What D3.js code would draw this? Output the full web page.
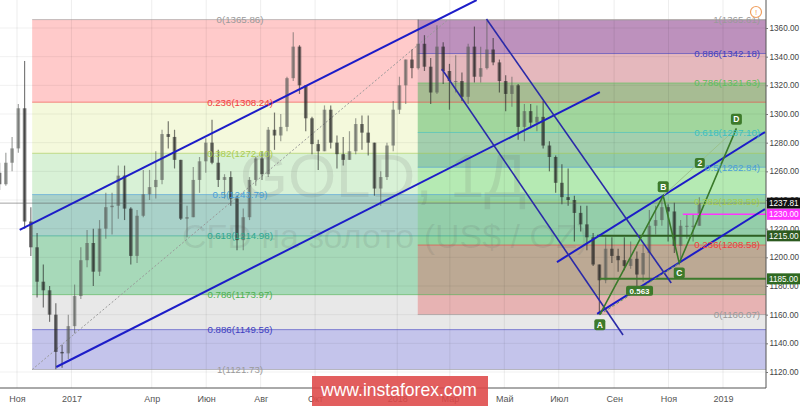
<!DOCTYPE html>
<html><head><meta charset="utf-8">
<script src="https://cdn.jsdelivr.net/npm/d3@7/dist/d3.min.js"></script>
<style>
html,body{margin:0;padding:0;background:#fff;}
svg{display:block;font-family:"Liberation Sans",Arial,sans-serif;}
</style></head>
<body><svg id="c" width="800" height="406"></svg>
<script>
// ---------------- DATA ----------------
const firstWeek = "2016-10-10"; // weekly candles, Monday starts
const opens = [1259,1251,1266,1276,1304,1225,1207,1183,1177,1160,1134,1133,
 1152,1173,1198,1210,1190,1220,1235,1236,1257,1234,1201,1229,1244,1249,1254,1286,1284,1268,1227,1228,1254,1267,1280,1266,1254,1256,1241,1212,1228,1254,1269,1258,1289,1285,1291,1325,1347,1320,1297,1279,1274,1303,1280,1272,1268,1274,1293,1287,1280,1248,1256,1278,
 1303,1320,1338,1332,1349,1333,1315,1347,1330,1323,1323,1312,1347,1326,1332,1345,1336,1323,1314,1320,1291,1302,1294,1298,1278,1270,1252,1242,1240,1231,1223,1214,1195,1184,1206,1201,1198,1194,1199,1188,1203,1222,1226,1235,1232,1208,1222,1222,1222];
const highs = [1266,1273,1284,1307,1337,1235,1217,1195,1180,1168,1139,1160,
 1181,1207,1219,1220,1226,1245,1245,1264,1264,1235,1233,1261,1261,1274,1289,1295,1289,1268,1236,1263,1270,1283,1296,1275,1258,1260,1243,1234,1256,1270,1274,1291,1301,1300,1326,1357,1348,1320,1298,1282,1306,1306,1285,1284,1288,1297,1299,1299,1280,1260,1280,1309,
 1326,1338,1345,1366,1355,1339,1362,1350,1335,1341,1329,1349,1361,1347,1365,1353,1338,1327,1326,1321,1307,1307,1306,1309,1281,1271,1265,1262,1243,1236,1236,1217,1195,1214,1214,1206,1214,1211,1204,1209,1233,1236,1243,1237,1238,1226,1230,1230,1242];
const lows = [1247,1250,1260,1273,1220,1201,1172,1165,1155,1122,1123,1129,
 1147,1171,1193,1180,1187,1213,1216,1227,1226,1195,1196,1228,1240,1241,1251,1276,1262,1226,1214,1228,1245,1259,1265,1249,1241,1236,1205,1205,1226,1250,1254,1256,1275,1281,1288,1323,1314,1288,1272,1261,1274,1276,1262,1264,1268,1272,1275,1271,1243,1236,1254,1274,
 1300,1307,1325,1331,1330,1307,1314,1321,1303,1315,1309,1307,1322,1322,1331,1334,1315,1302,1305,1282,1281,1290,1288,1276,1260,1245,1237,1236,1211,1218,1205,1194,1160,1182,1196,1190,1191,1192,1180,1183,1183,1216,1222,1211,1203,1196,1213,1211,1222];
const closes = [1251,1266,1276,1304,1225,1207,1183,1177,1160,1134,1133,1152,
 1173,1198,1210,1190,1220,1235,1236,1257,1234,1201,1229,1244,1249,1254,1286,1284,1268,1227,1228,1254,1267,1280,1266,1254,1256,1241,1212,1228,1254,1269,1258,1289,1285,1291,1325,1347,1320,1297,1279,1274,1303,1280,1272,1268,1274,1293,1287,1280,1248,1256,1278,1303,
 1320,1338,1332,1349,1333,1315,1347,1330,1323,1323,1312,1347,1326,1332,1345,1336,1323,1314,1320,1291,1302,1294,1298,1278,1270,1252,1242,1240,1231,1223,1214,1195,1184,1206,1201,1198,1194,1199,1188,1203,1222,1226,1235,1232,1208,1222,1222,1222,1237.81];

const priceTicks = [1120,1140,1160,1180,1200,1220,1240,1260,1280,1300,1320,1340,1360];
const timeTickDates = ["2016-11-01","2017-01-01","2017-04-01","2017-06-01","2017-08-01","2017-10-01","2018-01-01","2018-03-01","2018-05-01","2018-07-01","2018-09-01","2018-11-01","2019-01-01"];
const timeTickLabels = ["Ноя","2017","Апр","Июн","Авг","Окт","2018","Мар","Май","Июл","Сен","Ноя","2019"];

// Fibonacci retracement 1 (left, extended right)
const fibLeftAnchorDates = ["2016-11-18","2018-02-27"];
const fibLeftLevels = [0,0.236,0.382,0.5,0.618,0.786,0.886,1];
const fibLeftPrices = [1365.86,1308.24,1272.60,1243.79,1214.98,1173.97,1149.56,1121.73];
// Fibonacci retracement 2 (right)
const fibRightAnchorDates = ["2018-01-24","2018-08-16"];
const fibRightLevels = [1,0.886,0.786,0.618,0.5,0.382,0.236,0];
const fibRightPrices = [1365.61,1342.18,1321.63,1287.10,1262.84,1238.59,1208.58,1160.07];

// trend lines [startDate, startPrice, endDate, endPrice]
const channelLines = [
  ["2016-11-04",1219.1,"2018-03-31",1379.5],
  ["2016-12-15",1123.5,"2018-08-16",1315.3],
  ["2018-06-29",1196.7,"2019-02-17",1287.4],
  ["2018-08-13",1160.5,"2019-02-17",1233.7]
];
const fallingLines = [
  ["2018-04-11",1366.3,"2018-11-04",1182.1],
  ["2018-02-20",1331.4,"2018-09-11",1145.8]
];
// ABCD pattern
const abcdNames = ["A","B","C","D"];
const abcdDates = ["2018-08-16","2018-10-26","2018-11-13","2019-01-16"];
const abcdPrices = [1160,1243,1196,1290];
const ratioAC = "0.563";
const ratioBD = "2";
// horizontal levels
const hLevelPrices = [1230,1215,1185];
const hLevelStartDates = ["2018-11-17","2018-08-13","2018-08-16"];
const lastPrice = 1237.81;

// ---------------- DRAW ----------------
const parse = d3.utcParse("%Y-%m-%d");
const svg = d3.select("#c");
const plotR = 766, plotB = 388;
const x = d3.scaleUtc().domain([parse("2016-11-01"), parse("2019-01-01")]).range([17,723]);
const y = d3.scaleLinear().domain([1120,1360]).range([372,28]);

svg.append("defs").append("clipPath").attr("id","plot")
  .append("rect").attr("x",0).attr("y",0).attr("width",plotR).attr("height",plotB);
const g = svg.append("g").attr("clip-path","url(#plot)");

// left fib bands
const leftFills = ["rgba(255,80,80,0.30)","rgba(200,225,80,0.20)","rgba(100,200,90,0.25)",
  "rgba(40,140,120,0.40)","rgba(60,170,100,0.45)","rgba(128,128,128,0.18)","rgba(60,60,190,0.30)"];
const leftLineCols = ["#9a9a9a","#f04040","#a8cc50","#4a9fd8","#30a890","#4cb050","#4040c0","#9a9a9a"];
const xl0 = x(parse(fibLeftAnchorDates[0]));
for (let i=0;i<fibLeftPrices.length-1;i++){
  g.append("rect").attr("x",xl0).attr("width",plotR-xl0)
   .attr("y",y(fibLeftPrices[i])).attr("height",y(fibLeftPrices[i+1])-y(fibLeftPrices[i]))
   .attr("fill",leftFills[i]);
}
// right fib bands
const rightFills = ["rgba(90,60,170,0.40)","rgba(150,130,150,0.25)","rgba(60,170,80,0.45)",
  "rgba(50,150,110,0.42)","rgba(100,220,100,0.30)","rgba(100,200,100,0.30)","rgba(230,80,80,0.35)"];
const rightLineCols = ["#9a9a9a","#4040c0","#5cbf5c","#40bfc0","#4a9fd8","#a8cc50","#f04040","#9a9a9a"];
const xr0 = x(parse(fibRightAnchorDates[0]));
for (let i=0;i<fibRightPrices.length-1;i++){
  g.append("rect").attr("x",xr0).attr("width",plotR-xr0)
   .attr("y",y(fibRightPrices[i])).attr("height",y(fibRightPrices[i+1])-y(fibRightPrices[i]))
   .attr("fill",rightFills[i]);
}

// grid
g.selectAll(".vg").data(timeTickDates).enter().append("line")
  .attr("x1",d=>x(parse(d))).attr("x2",d=>x(parse(d))).attr("y1",0).attr("y2",plotB)
  .attr("stroke","rgba(0,0,0,0.07)").attr("stroke-width",1);
g.selectAll(".hg").data(priceTicks).enter().append("line")
  .attr("x1",0).attr("x2",plotR).attr("y1",d=>y(d)).attr("y2",d=>y(d))
  .attr("stroke","rgba(0,0,0,0.06)").attr("stroke-width",1);

// fib level lines
fibLeftPrices.forEach((p,i)=>{
  g.append("line").attr("x1",xl0).attr("x2",plotR).attr("y1",y(p)).attr("y2",y(p))
   .attr("stroke",leftLineCols[i]).attr("stroke-opacity",0.6).attr("stroke-width",1);
});
fibRightPrices.forEach((p,i)=>{
  g.append("line").attr("x1",xr0).attr("x2",plotR).attr("y1",y(p)).attr("y2",y(p))
   .attr("stroke",rightLineCols[i]).attr("stroke-opacity",0.6).attr("stroke-width",1);
});
// fib trend (dotted)
g.append("line")
  .attr("x1",x(parse(fibLeftAnchorDates[0]))).attr("y1",y(fibLeftPrices[fibLeftPrices.length-1]))
  .attr("x2",x(parse(fibLeftAnchorDates[1]))).attr("y2",y(fibLeftPrices[0]))
  .attr("stroke","#999").attr("stroke-width",1).attr("stroke-dasharray","2,2");

// watermark
g.append("text").attr("x",383).attr("y",197).attr("text-anchor","middle")
  .attr("font-size",62).attr("fill","rgba(90,90,90,0.13)").text("GOLD, 1Д");
g.append("text").attr("x",385).attr("y",248).attr("text-anchor","middle")
  .attr("font-size",34).attr("fill","rgba(90,90,90,0.13)").text("CFD на золото (US$ / OZ)");

// candles
const w0 = parse(firstWeek);
const centers = opens.map((o,i)=>d3.utcHour.offset(d3.utcMonday.offset(w0,i),60));
const cg = g.append("g");
opens.forEach((o,i)=>{
  const cx = x(centers[i]);
  const up = closes[i]>=o;
  const col = up ? "rgba(85,90,85,0.55)" : "rgba(35,35,35,0.6)";
  cg.append("line").attr("x1",cx).attr("x2",cx).attr("y1",y(highs[i])).attr("y2",y(lows[i]))
    .attr("stroke",col).attr("stroke-width",1.2);
  const top = y(Math.max(o,closes[i])), bot = y(Math.min(o,closes[i]));
  cg.append("rect").attr("x",cx-1.8).attr("width",3.6).attr("y",top).attr("height",Math.max(1,bot-top))
    .attr("fill",col);
});

// last price line
g.append("line").attr("x1",0).attr("x2",plotR).attr("y1",y(lastPrice)).attr("y2",y(lastPrice))
  .attr("stroke","rgba(90,90,90,0.55)").attr("stroke-width",1);

// horizontal levels
const hCols = ["#ff33ff","#2f5f22","#3d7a2d"];
hLevelPrices.forEach((p,i)=>{
  g.append("line").attr("x1",x(parse(hLevelStartDates[i]))).attr("x2",plotR)
   .attr("y1",y(p)).attr("y2",y(p)).attr("stroke",hCols[i]).attr("stroke-width",i===0?1.5:2);
});

// blue lines
channelLines.forEach(l=>{
  g.append("line").attr("x1",x(parse(l[0]))).attr("y1",y(l[1])).attr("x2",x(parse(l[2]))).attr("y2",y(l[3]))
   .attr("stroke","#1c1cc8").attr("stroke-width",2);
});
fallingLines.forEach(l=>{
  g.append("line").attr("x1",x(parse(l[0]))).attr("y1",y(l[1])).attr("x2",x(parse(l[2]))).attr("y2",y(l[3]))
   .attr("stroke","#2a2aa8").attr("stroke-width",1.6);
});

// ABCD
const pts = abcdDates.map((d,i)=>[x(parse(d)), y(abcdPrices[i])]);
g.append("line").attr("x1",pts[1][0]).attr("y1",pts[1][1]).attr("x2",pts[3][0]).attr("y2",pts[3][1])
  .attr("stroke","#9cc28c").attr("stroke-width",1);
g.append("line").attr("x1",pts[0][0]).attr("y1",pts[0][1]).attr("x2",pts[2][0]).attr("y2",pts[2][1])
  .attr("stroke","#6a9a5a").attr("stroke-width",1).attr("stroke-dasharray","3,2");
g.append("path").attr("d",d3.line()(pts)).attr("fill","none")
  .attr("stroke","#3a7a2a").attr("stroke-width",1.6);

function tag(cx,cy,txt,w,h,fs){
  g.append("rect").attr("x",cx-w/2).attr("y",cy-h/2).attr("width",w).attr("height",h)
   .attr("rx",2).attr("fill","#3d7a2b");
  g.append("text").attr("x",cx).attr("y",cy).attr("dy","0.36em").attr("text-anchor","middle")
   .attr("font-size",fs).attr("font-weight","bold").attr("fill","#fff").text(txt);
}
pts.forEach((p,i)=>{
  const below = (i===0||i===2);
  tag(p[0], p[1]+(below?10:-9), abcdNames[i], 11, 11, 8.5);
});
tag((pts[0][0]+pts[2][0])/2, (pts[0][1]+pts[2][1])/2+2, ratioAC, 27, 10, 8);
tag((pts[1][0]+pts[3][0])/2, (pts[1][1]+pts[3][1])/2+1, ratioBD, 10, 10, 8.5);

// fib labels
const lx = 240;
fibLeftPrices.forEach((p,i)=>{
  g.append("text").attr("x",lx).attr("y",y(p)).attr("dy","0.35em").attr("text-anchor","middle")
   .attr("font-size",9.7).attr("fill",leftLineCols[i])
   .text(fibLeftLevels[i]+"("+p.toFixed(2)+")");
});
fibRightPrices.forEach((p,i)=>{
  g.append("text").attr("x",760).attr("y",y(p)).attr("dy","0.35em").attr("text-anchor","end")
   .attr("font-size",9.7).attr("fill",rightLineCols[i])
   .text(fibRightLevels[i]+"("+p.toFixed(2)+")");
});

// orange icon
svg.append("circle").attr("cx",756).attr("cy",12).attr("r",5.5).attr("fill","#fff")
  .attr("stroke","#f0a060").attr("stroke-width",1.2);
svg.append("text").attr("x",756).attr("y",12).attr("dy","0.35em").attr("text-anchor","middle")
  .attr("font-size",8).attr("fill","#f0a060").text("!");

// axes
const xAxis = d3.axisBottom(x).tickValues(timeTickDates.map(parse))
  .tickFormat((d,i)=>timeTickLabels[i]).tickSize(0).tickPadding(8);
const xa = svg.append("g").attr("transform",`translate(0,${plotB})`).call(xAxis);
xa.select(".domain").attr("stroke","#555").attr("d",`M0,0H${plotR}`);
xa.selectAll("text").attr("font-size",9).attr("fill","#555").attr("font-family","'Liberation Sans',Arial,sans-serif");

const yAxis = d3.axisRight(y).tickValues(priceTicks).tickFormat(d3.format(".2f")).tickSize(2).tickPadding(1.5);
const ya = svg.append("g").attr("transform",`translate(${plotR},0)`).call(yAxis);
ya.select(".domain").attr("stroke","#555").attr("d",`M0,0V${plotB}`);
ya.selectAll(".tick line").attr("stroke","#777");
ya.selectAll("text").attr("font-size",8.2).attr("fill","#444").attr("font-family","'Liberation Sans',Arial,sans-serif");

// price tags on axis
const tagPrices = [lastPrice, 1230, 1215, 1185];
const tagCols = ["#111","#ff33ff","#2c5a20","#2f6a22"];
tagPrices.forEach((p,i)=>{
  svg.append("rect").attr("x",plotR+1).attr("y",y(p)-5.5).attr("width",33).attr("height",11).attr("fill",tagCols[i]);
  svg.append("text").attr("x",plotR+3).attr("y",y(p)).attr("dy","0.35em").attr("font-size",8.2)
    .attr("fill","#fff").text(p.toFixed(2));
});

// instaforex banner
svg.append("rect").attr("x",312).attr("y",376).attr("width",176).attr("height",30).attr("fill","rgba(222,72,72,0.88)");
svg.append("text").attr("x",399).attr("y",396).attr("text-anchor","middle").attr("font-size",19)
  .attr("fill","#fff").attr("textLength",156).attr("lengthAdjust","spacingAndGlyphs").text("www.instaforex.com");
</script>
</body></html>
